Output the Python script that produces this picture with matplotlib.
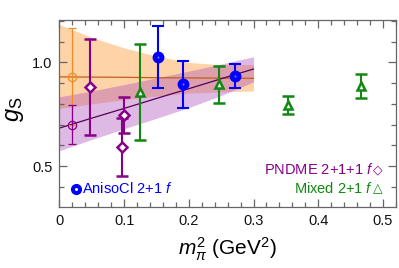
import matplotlib
matplotlib.use("Agg")
import matplotlib.pyplot as plt
from matplotlib.ticker import MultipleLocator
from matplotlib.transforms import offset_copy
import numpy as np

plt.rcParams['font.family'] = ['Liberation Sans', 'DejaVu Sans']
plt.rcParams['mathtext.fontset'] = 'custom'
plt.rcParams['mathtext.rm'] = 'Liberation Sans'
plt.rcParams['mathtext.it'] = 'Liberation Sans:italic'

# AnisoCl 2+1 f (blue filled circles)
aniso_x = [0.152, 0.191, 0.271]
aniso_y = [1.024, 0.894, 0.934]
aniso_err = [0.150, 0.112, 0.060]

# PNDME 2+1+1 f (purple diamonds)
pndme_x = [0.048, 0.0997, 0.096]
pndme_y = [0.882, 0.746, 0.591]
pndme_err = [0.230, 0.088, 0.140]

# Mixed 2+1 f (green triangles)
mixed_x = [0.124, 0.246, 0.354, 0.466]
mixed_y = [0.858, 0.894, 0.795, 0.887]
mixed_err = [0.232, 0.090, 0.045, 0.058]

# Extrapolated points at physical pion mass
orange_pt = (0.0198, 0.93, 0.234)
purple_pt = (0.0198, 0.698, 0.094)

# Fit bands
band_x = [0.0, 0.05, 0.10, 0.15, 0.20, 0.25, 0.30]
orange_top = [1.183, 1.120, 1.070, 1.030, 1.000, 0.988, 0.990]
orange_bot = [0.778, 0.800, 0.820, 0.838, 0.852, 0.858, 0.862]
orange_line = [0.930, 0.929, 0.928, 0.926, 0.925, 0.924, 0.923]
purple_top = [0.834, 0.862, 0.893, 0.925, 0.958, 0.992, 1.027]
purple_bot = [0.574, 0.628, 0.680, 0.730, 0.782, 0.840, 0.906]
purple_line = [0.683, 0.731, 0.778, 0.826, 0.873, 0.921, 0.968]

C_BLUE = '#0000ff'
C_PURP = '#880088'
C_GREEN = '#118811'
C_ORANGE = '#f08c28'

fig = plt.figure(figsize=(3.99, 2.68), dpi=100)
ax = fig.add_axes([0.149, 0.229, 0.843, 0.696])

ax.fill_between(band_x, orange_bot, orange_top, color='#ffb66e', alpha=0.6, lw=0, zorder=1)
ax.fill_between(band_x, purple_bot, purple_top, color='#a848b8', alpha=0.38, lw=0, zorder=1)
ax.plot(band_x, orange_line, color='#c06018', lw=0.9, zorder=2)
ax.plot(band_x, purple_line, color='#550055', lw=0.9, zorder=2)

ax.errorbar([orange_pt[0]], [orange_pt[1]], yerr=[orange_pt[2]], fmt='o', ms=6,
            mfc='none', mec=C_ORANGE, color=C_ORANGE, ecolor=C_ORANGE,
            elinewidth=0.9, capsize=3, capthick=0.9, mew=0.9, zorder=3)
ax.errorbar([purple_pt[0]], [purple_pt[1]], yerr=[purple_pt[2]], fmt='o', ms=6,
            mfc='none', mec=C_PURP, color=C_PURP, ecolor=C_PURP,
            elinewidth=0.9, capsize=3, capthick=0.9, mew=0.9, zorder=3)

ax.errorbar(pndme_x, pndme_y, yerr=pndme_err, fmt='D', ms=5.5, mfc='white', mec=C_PURP,
            ecolor=C_PURP, elinewidth=1.5, capsize=4, capthick=1.5, mew=1.8, zorder=4)
ax.errorbar(mixed_x, mixed_y, yerr=mixed_err, fmt='^', ms=6, mfc='white', mec=C_GREEN,
            ecolor=C_GREEN, elinewidth=1.5, capsize=4, capthick=1.5, mew=1.8, zorder=4)
ax.errorbar(aniso_x, aniso_y, yerr=aniso_err, fmt='o', ms=7.5, mfc=C_BLUE, mec=C_BLUE,
            ecolor=C_BLUE, elinewidth=1.5, capsize=4, capthick=1.5, zorder=5)
ax.plot(aniso_x, aniso_y, 'o', ms=1.4, mfc='#8080ff', mec='none', zorder=6)

ax.set_xlim(0, 0.52)
ax.set_ylim(0.304, 1.204)
ax.xaxis.set_minor_locator(MultipleLocator(0.02))
ax.yaxis.set_minor_locator(MultipleLocator(0.1))
ax.set_xticks([0, 0.1, 0.2, 0.3, 0.4, 0.5])
ax.set_xticklabels(['0', '0.1', '0.2', '0.3', '0.4', '0.5'])
ax.set_yticks([0.5, 1.0])
ax.set_yticklabels(['0.5', '1.0'])

frame_c = '#666666'
for s in ax.spines.values():
    s.set_color(frame_c)
    s.set_linewidth(0.9)
ax.tick_params(which='both', direction='in', top=True, right=True, color=frame_c,
               labelsize=10.5, labelcolor='#111111', pad=5)
ax.tick_params(which='major', length=6, width=0.9)
ax.tick_params(which='minor', length=3.5, width=0.9)

ax.set_xlabel(r'$m_\pi^2$ (GeV$^2$)', fontsize=15, labelpad=6)
ax.set_ylabel(r'$g_{\rm S}$', fontsize=17)
ax.yaxis.set_label_coords(-0.1, 0.52)

# AnisoCl label with bullseye marker
ax.plot([0.049], [0.095], 'o', ms=7, mfc=C_BLUE, mec=C_BLUE,
        transform=ax.transAxes, clip_on=False, zorder=6)
ax.plot([0.049], [0.095], 'o', ms=2.2, mfc='white', mec='none',
        transform=ax.transAxes, clip_on=False, zorder=7)
ax.text(0.067, 0.095, r'AnisoCl 2+1 $f$', transform=ax.transAxes, color=C_BLUE,
        fontsize=10.5, va='center', ha='left')

# right-side labels: glyph drawn separately (DejaVu Sans), text placed left of it
renderer = fig.canvas.get_renderer()
for ytxt, txt, glyph, col in [(0.197, r'PNDME 2+1+1 $f$', '\u25C7', C_PURP),
                              (0.095, r'Mixed 2+1 $f$', '\u25B3', C_GREEN)]:
    g = ax.text(0.962, ytxt, glyph, transform=ax.transAxes, color=col,
                fontsize=9, va='center', ha='right', family='DejaVu Sans')
    w = g.get_window_extent(renderer=renderer).width
    tr = offset_copy(ax.transAxes, fig=fig, x=-w * 72.0 / fig.dpi, y=0, units='points')
    ax.text(0.962, ytxt, txt, transform=tr, color=col,
            fontsize=10.5, va='center', ha='right')

fig.savefig('out.png', dpi=100)
